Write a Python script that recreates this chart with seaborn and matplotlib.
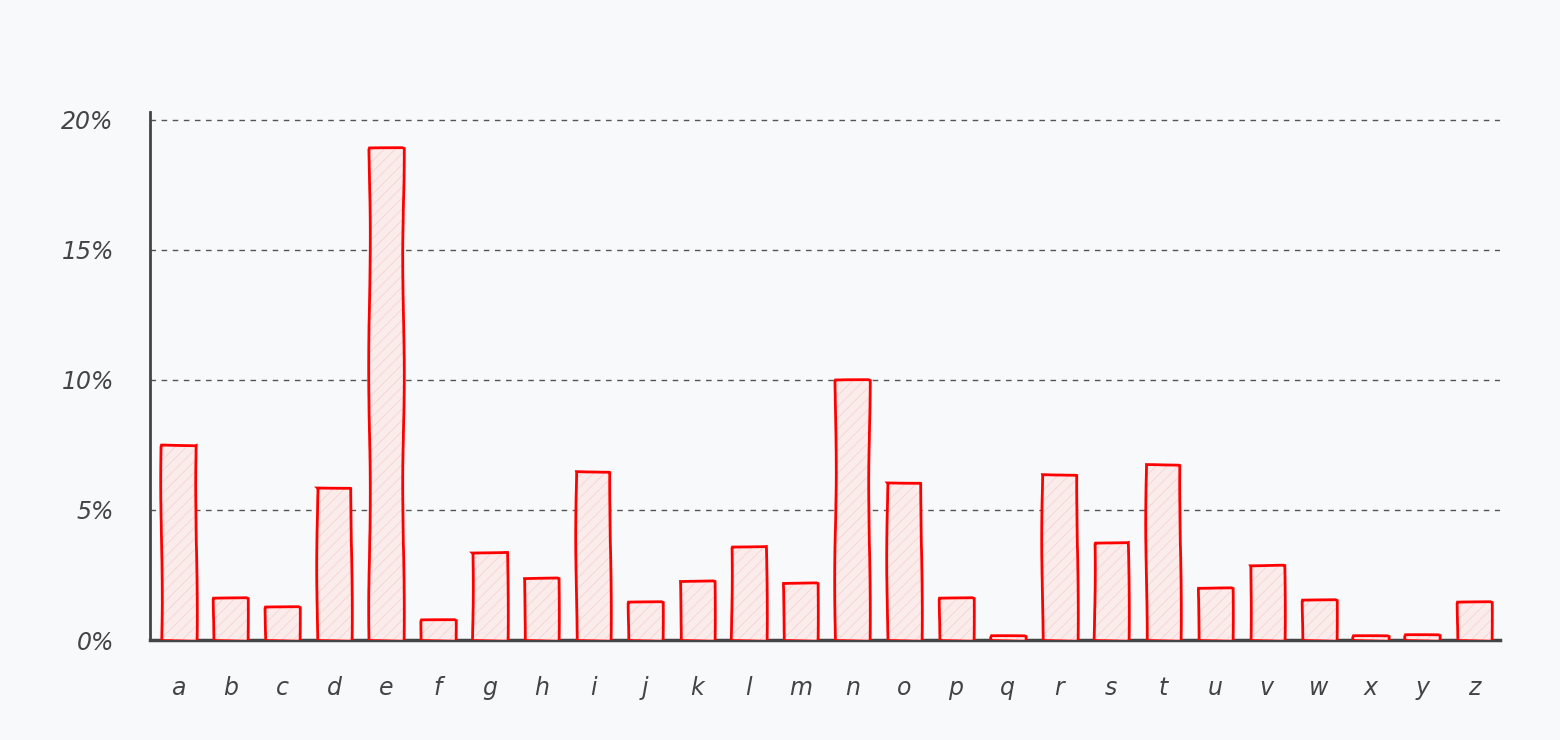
import matplotlib
matplotlib.use("Agg")
import matplotlib.pyplot as plt
import seaborn as sns
import pandas as pd

# letras y frecuencias (%)
letters = list("abcdefghijklmnopqrstuvwxyz")
freq = [7.5, 1.6, 1.27, 5.9, 18.9, 0.77, 3.4, 2.4, 6.5, 1.46, 2.27, 3.6, 2.2,
        10.0, 6.07, 1.6, 0.15, 6.4, 3.77, 6.77, 2.0, 2.9, 1.55, 0.15, 0.2, 1.45]
yticks = [0, 5, 10, 15, 20]
ytick_labels = ["0%", "5%", "10%", "15%", "20%"]

df = pd.DataFrame({"letter": letters, "freq": freq})

sns.set_style("white")
plt.rcParams["font.family"] = ["DejaVu Sans"]
plt.rcParams["hatch.linewidth"] = 0.5
bg = "#f8f9fb"

fig = plt.figure(figsize=(15.6, 7.4), dpi=100, facecolor=bg)
ax = fig.add_axes([150 / 1560, 100 / 740, 1350 / 1560, 528 / 740], facecolor=bg)

# capa de relleno rayado suave
sns.barplot(data=df, x="letter", y="freq", ax=ax, width=0.66,
            color="#fdeaea", edgecolor="#f8cccc", linewidth=0, hatch="///", zorder=3)
n = len(ax.patches)
# contorno rojo
sns.barplot(data=df, x="letter", y="freq", ax=ax, width=0.66, fill=False,
            edgecolor="#ff0000", linewidth=2, zorder=4)
for p in ax.patches[n:]:
    p.set_sketch_params(0.8, 300, 3)

ax.set_xlim(-0.55, 25.5)
ax.set_ylim(0, 20.3)
ax.set_yticks(yticks)
ax.set_yticklabels(ytick_labels)
ax.yaxis.grid(True, linestyle=(0, (4, 4)), color="#555555", linewidth=1, zorder=0)
ax.set_xlabel("")
ax.set_ylabel("")
for s in ["top", "right"]:
    ax.spines[s].set_visible(False)
ax.spines["left"].set_color("#444444")
ax.spines["bottom"].set_color("#444444")
ax.spines["left"].set_linewidth(2)
ax.spines["bottom"].set_linewidth(2.5)
ax.tick_params(length=0, labelsize=17, colors="#444444")
ax.tick_params(axis="x", pad=26)
ax.tick_params(axis="y", pad=26)
for t in ax.get_xticklabels() + ax.get_yticklabels():
    t.set_fontstyle("italic")

fig.savefig("out.png", dpi=100, facecolor=bg)
